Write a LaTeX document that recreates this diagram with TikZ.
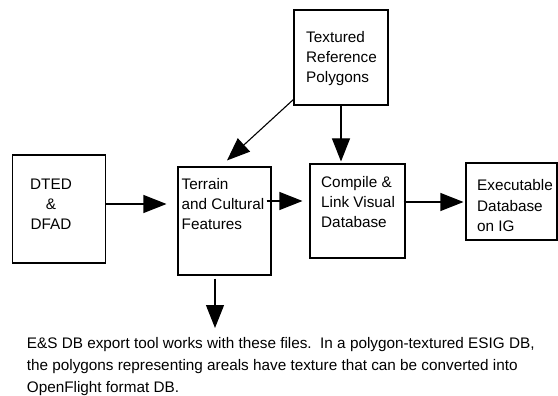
\documentclass[tikz,border=0pt]{standalone}
\usepackage{fontspec}
\setmainfont{Liberation Sans}
\usetikzlibrary{arrows.meta}

\begin{document}
\begin{tikzpicture}[x=1pt,y=-1pt,
	main/.style = {draw, line width=1.1pt, inner sep=0pt},
	txt/.style = {inner sep=0pt, anchor=north west, font=\fontsize{15.3}{20}\selectfont},
	arr/.style = {line width=1.1pt, -{Triangle[length=23pt,width=18pt]}}]
	\useasboundingbox (0,0) rectangle (558,396);
	\node[main, minimum width=93pt, minimum height=108pt] (1) at (59,209) {};
	\node[main, minimum width=93pt, minimum height=108pt] (2) at (224.5,221) {};
	\node[main, minimum width=95pt, minimum height=94pt] (3) at (357.5,211) {};
	\node[main, minimum width=91pt, minimum height=77pt] (4) at (511.5,201.5) {};
	\node[main, minimum width=94pt, minimum height=95pt] (5) at (341,57.5) {};
	\node[txt, align=center] (1t) at (30,178.5) {DTED\\\&\\DFAD};
	\node[txt, align=left] (2t) at (181.5,178.5) {Terrain\\and Cultural\\Features};
	\node[txt, align=left] (3t) at (321,176.5) {Compile \&\\Link Visual\\Database};
	\node[txt, align=left, font=\fontsize{15.3}{20.5}\selectfont] (4t) at (477,179.5) {Executable\\Database\\on IG};
	\node[txt, align=left] (5t) at (306,31.5) {Textured\\Reference\\Polygons};
	\node[txt, align=left, font=\fontsize{15.3}{22}\selectfont] (7) at (26.7,337.5)
		{E\&S DB export tool works with these files.~~In a polygon-textured ESIG DB,\\
		the polygons representing areals have texture that can be converted into\\
		OpenFlight format DB.};
	\coordinate (6) at (215,328);
	\draw[arr, shorten >=11pt] ([yshift=5pt]1.east) -- ([yshift=5pt]1.east -| 2.west);
	\draw[arr, shorten >=2pt] ([xshift=-5pt,yshift=20pt]2.east) -- ([xshift=-5pt,yshift=20pt]2.east -| 3.west);
	\draw[arr] ([xshift=-2pt,yshift=9pt]3.east) -- ([xshift=-2pt,yshift=9pt]3.east -| 4.west);
	\draw[arr] ([xshift=1pt,yshift=7pt]5.south west) -- ([xshift=2.5pt,yshift=6pt]2.north);
	\draw[arr, shorten >=2pt] (5.south) -- (5.south |- 3.north);
	\draw[arr] (6 |- 2.south) ++(0,3) -- (6);
\end{tikzpicture}
\end{document}
